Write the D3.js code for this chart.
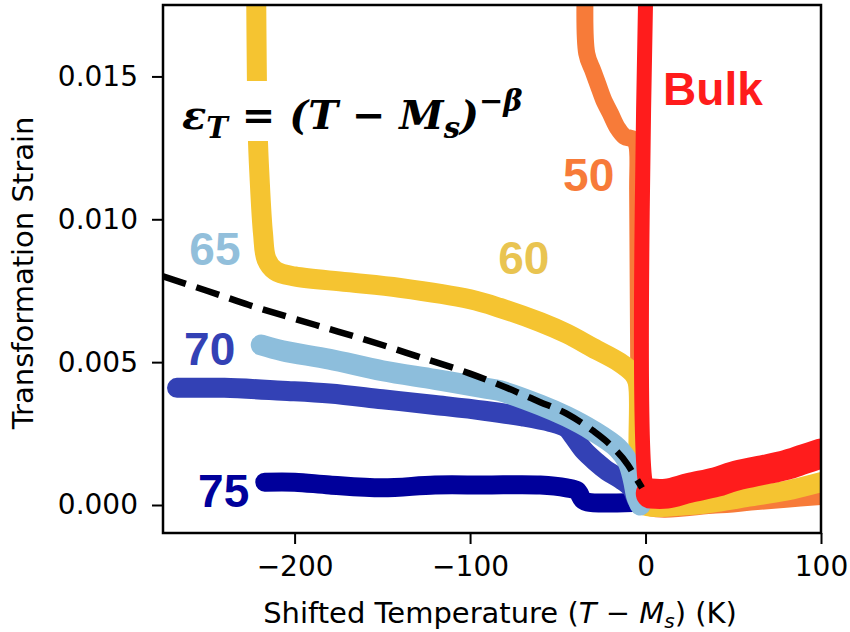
<!DOCTYPE html>
<html>
<head>
<meta charset="utf-8">
<script src="https://cdn.jsdelivr.net/npm/d3@7"></script>
<style>
  body { margin: 0; background: #fff; }
  .tick text { font-family: "DejaVu Sans", sans-serif; font-size: 28px; fill: #000; }
  .axis-label { font-family: "DejaVu Sans", sans-serif; font-size: 29px; fill: #000; }
  .tag { font-family: "Liberation Sans", Arial, sans-serif; font-weight: bold; font-size: 46px; }
  .eq { font-family: "DejaVu Serif", serif; font-weight: bold; font-style: italic; font-size: 40px; }
</style>
</head>
<body>
<svg id="chart" width="850" height="632"></svg>
<script>
// strain vs shifted temperature
const bulk = [[0.5, 0.019], [0.5, 0.0006], [3, 0.0004], [12, 0.0004], [25, 0.0006], [40, 0.0008], [50, 0.0010], [65, 0.0012], [80, 0.0014], [90, 0.0016], [100, 0.0018]]
const film50 = [[-34, 0.019], [-33.5, 0.0158], [-30, 0.0152], [-27, 0.0147], [-24, 0.0142], [-20, 0.0137], [-16, 0.0132], [-12, 0.0129], [-7, 0.0128], [-5, 0.0126], [-4.5, 0.0110], [-4, 0.0060], [-3, 0.0010], [-1, 0], [40, 0], [60, 0.0001], [80, 0.0002], [100, 0.0003]]
const film60 = [[-222, 0.019], [-221, 0.013], [-220, 0.0115], [-218, 0.0095], [-216, 0.0086], [-211, 0.0082], [-200, 0.0080], [-170, 0.0078], [-140, 0.0076], [-100, 0.0072], [-83, 0.0069], [-60, 0.0064], [-45, 0.0060], [-30, 0.0055], [-15, 0.0050], [-7, 0.0046], [-4.5, 0.0043], [-4, 0.0020], [-3, 0.0003], [-1, 0], [25, 0], [40, 0.0001], [60, 0.0003], [80, 0.0005], [100, 0.0008]]
const film65 = [[-219, 0.0056], [-207, 0.0054], [-180, 0.0051], [-150, 0.0047], [-120, 0.0044], [-92, 0.0041], [-83, 0.0040], [-60, 0.0035], [-45, 0.0031], [-30, 0.0026], [-16, 0.0020], [-10, 0.0015], [-7, 0.0009], [-5, 0.0003], [-3, 0]]
const film70 = [[-267, 0.0041], [-240, 0.0041], [-207, 0.0040], [-180, 0.0039], [-150, 0.0037], [-120, 0.0035], [-92, 0.0033], [-70, 0.0031], [-54, 0.0029], [-45, 0.0027], [-41, 0.0024], [-35, 0.0019], [-28, 0.0015], [-22, 0.0012], [-14, 0.0009], [-8, 0.0006], [-5, 0.0002], [-3, 0]]
const film75 = [[-217, 0.0008], [-200, 0.0008], [-180, 0.0007], [-150, 0.0006], [-120, 0.0007], [-92, 0.0007], [-60, 0.0007], [-45, 0.0006], [-39, 0.0005], [-36, 0.0002], [-33, 0.0001], [-3, 0.0001]]
const fit = [[-275, 0.0080], [-250, 0.0075], [-226, 0.0070], [-188, 0.0063], [-150, 0.0056], [-130, 0.0052], [-100, 0.0046], [-83, 0.0042], [-60, 0.0036], [-45, 0.0032], [-30, 0.0026], [-20, 0.0021], [-10, 0.0014], [-7, 0.0011], [-2, 0.0006]]

const xTicks = [-200, -100, 0, 100]
const yTicks = [0, 0.005, 0.010, 0.015]

const series = [
    { name: "50", data: film50, color: "#f77b39", width: 17 },
    { name: "60", data: film60, color: "#f5c431", width: 20 },
    { name: "75", data: film75, color: "#00009b", width: 19 },
    { name: "70", data: film70, color: "#3341b5", width: 20 },
    { name: "65", data: film65, color: "#8dbedc", width: 21 },
    { name: "Bulk", data: bulk, color: "#ff1c1c", width: 15 }
]

const tags = [
    { text: "65", color: "#92bfdb", x: -260, y: 0.0084 },
    { text: "60", color: "#e9c451", x: -84, y: 0.0081 },
    { text: "50", color: "#f77b39", x: -47, y: 0.0110 },
    { text: "70", color: "#3341b5", x: -263, y: 0.0049 },
    { text: "75", color: "#00009b", x: -255, y: -0.00007 },
    { text: "Bulk", color: "#ff1c1c", x: 10, y: 0.0140 }
]

const svg = d3.select("#chart")
const width = +svg.attr("width")
const height = +svg.attr("height")
const margin = { top: 5, right: 29, bottom: 99, left: 163 }
const innerWidth = width - margin.left - margin.right
const innerHeight = height - margin.top - margin.bottom

const xScale = d3.scaleLinear().domain([-275, 100]).range([0, innerWidth])
const yScale = d3.scaleLinear().domain([-0.00098, 0.0175]).range([innerHeight, 0])

const g = svg.append("g").attr("transform", `translate(${margin.left},${margin.top})`)

g.append("clipPath").attr("id", "clip")
    .append("rect").attr("width", innerWidth).attr("height", innerHeight)

const plot = g.append("g").attr("clip-path", "url(#clip)")

const line = d3.line()
    .x(d => xScale(d[0]))
    .y(d => yScale(d[1]))
    .curve(d3.curveMonotoneX)

// vertical runs break monotoneX, so use a plain curve for the traces
const trace = d3.line()
    .x(d => xScale(d[0]))
    .y(d => yScale(d[1]))
    .curve(d3.curveCatmullRom.alpha(0.5))

plot.selectAll(".trace")
    .data(series)
    .enter()
    .append("path")
    .attr("class", "trace")
    .attr("d", d => trace(d.data))
    .attr("fill", "none")
    .attr("stroke", d => d.color)
    .attr("stroke-width", d => d.width)
    .attr("stroke-linecap", "round")
    .attr("stroke-linejoin", "round")

// the bulk trace is much noisier above 0 K, so it reads as a wider band
plot.append("path")
    .attr("d", trace(bulk.filter(d => d[0] > 1)))
    .attr("fill", "none")
    .attr("stroke", "#ff1c1c")
    .attr("stroke-width", 30)
    .attr("stroke-linecap", "round")

plot.append("path")
    .attr("d", line(fit))
    .attr("fill", "none")
    .attr("stroke", "#000")
    .attr("stroke-width", 6.5)
    .attr("stroke-dasharray", "24,11")

// equation sits on a white box, cutting the 60 trace
plot.append("rect")
    .attr("x", 12).attr("y", 76)
    .attr("width", 360).attr("height", 60)
    .attr("fill", "#fff")

const eq = plot.append("text").attr("class", "eq")
    .attr("x", 19).attr("y", 124)
eq.append("tspan").text("ε")
eq.append("tspan").attr("dy", 9).attr("font-size", 29).text("T")
eq.append("tspan").attr("dy", -9).text(" = (T − M")
eq.append("tspan").attr("dy", 9).attr("font-size", 29).text("s")
eq.append("tspan").attr("dy", -9).text(")")
eq.append("tspan").attr("dy", -18).attr("font-size", 29).text("−β")

g.selectAll(".tag")
    .data(tags)
    .enter()
    .append("text")
    .attr("class", "tag")
    .attr("x", d => xScale(d.x))
    .attr("y", d => yScale(d.y))
    .attr("fill", d => d.color)
    .text(d => d.text)

const xAxisG = g.append("g")
    .attr("transform", `translate(0,${innerHeight})`)
    .call(d3.axisBottom(xScale).tickValues(xTicks).tickFormat(d3.format("d")).tickSize(11).tickPadding(12))
const yAxisG = g.append("g")
    .call(d3.axisLeft(yScale).tickValues(yTicks).tickFormat(d3.format(".3f")).tickSize(11).tickPadding(14))

xAxisG.select(".domain").remove()
yAxisG.select(".domain").remove()
g.selectAll(".tick line").attr("stroke", "#000").attr("stroke-width", 2)

g.append("rect")
    .attr("width", innerWidth).attr("height", innerHeight)
    .attr("fill", "none").attr("stroke", "#000").attr("stroke-width", 2.5)

const xl = g.append("text").attr("class", "axis-label")
    .attr("x", innerWidth / 2 + 8).attr("y", innerHeight + 90)
    .attr("text-anchor", "middle")
xl.append("tspan").text("Shifted Temperature (")
xl.append("tspan").attr("font-style", "italic").text("T")
xl.append("tspan").text(" − ")
xl.append("tspan").attr("font-style", "italic").text("M")
xl.append("tspan").attr("font-style", "italic").attr("font-size", 20).attr("dy", 5).text("s")
xl.append("tspan").attr("dy", -5).text(") (K)")

g.append("text").attr("class", "axis-label")
    .attr("transform", `rotate(-90)`)
    .attr("x", -268).attr("y", -130)
    .attr("text-anchor", "middle")
    .text("Transformation Strain")
</script>
</body>
</html>
